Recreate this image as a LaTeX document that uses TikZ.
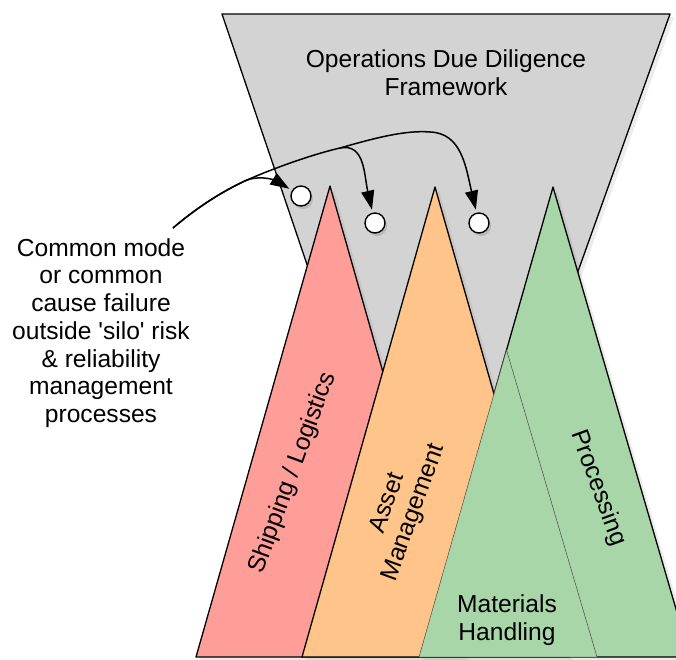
\documentclass[tikz,border=0pt]{standalone}
\usepackage{fontspec}
\setmainfont{Liberation Sans}
\usepackage{tikz}
\usetikzlibrary{arrows.meta,shadows}
\definecolor{fwgray}{RGB}{211,211,211}
\definecolor{shipred}{RGB}{255,158,153}
\definecolor{assetorange}{RGB}{254,196,137}
\definecolor{procgreen}{RGB}{168,214,168}
\tikzset{silo/.style={draw=black, line width=1.3pt, line join=round,
    drop shadow={shadow xshift=4pt, shadow yshift=-3pt, opacity=0.15}}}
\tikzset{lbl/.style={font=\fontsize{24.6}{27.7}\selectfont, align=center, inner sep=0pt}}
\tikzset{dot/.style={circle, draw=black, fill=white, line width=1.4pt, minimum size=20pt, inner sep=0pt,
    drop shadow={shadow xshift=2pt, shadow yshift=-3pt, opacity=0.3}}}
\tikzset{conn/.style={line width=1.5pt, shorten >=3pt, -{Triangle[length=19pt,width=13pt]}}}

\begin{document}
\begin{tikzpicture}[x=1pt,y=-1pt]
\useasboundingbox (0,0) rectangle (676,659);
\clip (0,0) rectangle (676,659);

\filldraw[silo, fill=fwgray] (222,14) -- (670,14) -- (532,400) -- (353,400) -- cycle;
\node[lbl] (title) at (446,73) {Operations Due Diligence\\Framework};

\filldraw[silo, fill=shipred] (330,186) -- (464,657) -- (196,657) -- cycle;
\filldraw[silo, fill=procgreen] (553,187) -- (690,657) -- (419,657) -- cycle;
\filldraw[silo, fill=assetorange] (435,187) -- (569,657) -- (302,657) -- cycle;
\filldraw[fill=procgreen, draw=black!70, line width=0.5pt] (506.5,350) -- (597,657) -- (419,657) -- cycle;

\node[lbl, rotate=70] (ship) at (293,473) {Shipping / Logistics};
\node[lbl, rotate=70] (asset) at (401,508) {Asset\\Management};
\node[lbl, rotate=-70] (proc) at (598,488) {Processing};
\node[lbl] (mh) at (507,620) {Materials\\Handling};

\node[lbl] (cause) at (101,333) {Common mode\\or common\\cause failure\\outside \textquotesingle silo\textquotesingle{} risk\\\& reliability\\management\\processes};

\node[dot] (c1) at (301,196) {};
\node[dot] (c2) at (375,223) {};
\node[dot] (c3) at (479,223) {};

\coordinate (src) at (173,228);
\coordinate (split) at (247,180);
\coordinate (fork) at (340,148);
\coordinate (peak) at (430,132);

\draw[conn] (src) .. controls (200,205) and (225,190) .. (split) .. controls (265,174) and (280,183) .. (c1);
\draw[conn] (src) .. controls (200,205) and (225,190) .. (split) .. controls (272,169) and (310,155) .. (fork) .. controls (365,143) and (364,175) .. (c2);
\draw[conn] (fork) .. controls (375,138) and (405,130) .. (peak) .. controls (462,133) and (466,168) .. (c3);
\end{tikzpicture}
\end{document}
